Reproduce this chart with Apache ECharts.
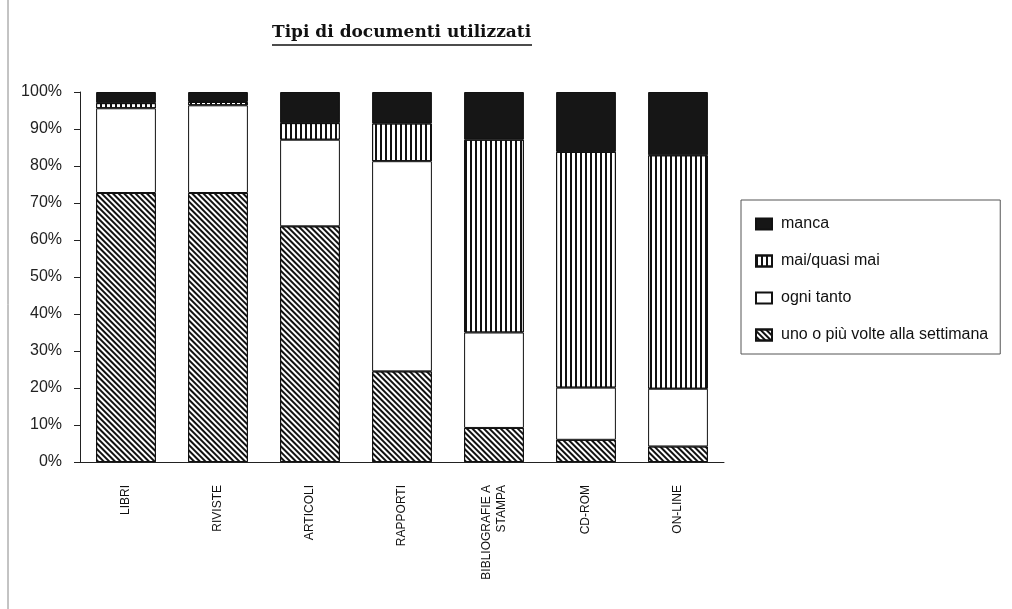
<!DOCTYPE html>
<html>
<head>
    <meta charset="UTF-8">
    <title>Tipi di documenti utilizzati</title>
    <script src="https://cdn.jsdelivr.net/npm/echarts@6/dist/echarts.min.js"></script>
    <style>html, body {margin: 0; padding: 0; background: #fff;} #main {width: 1012px; height: 609px;}</style>
</head>
<body>

<div id="main"></div>

<script>
    // dati (percentuali, ogni colonna somma a 100)
    var categorie = ['LIBRI', 'RIVISTE', 'ARTICOLI', 'RAPPORTI', 'BIBLIOGRAFIE A\nSTAMPA', 'CD-ROM', 'ON-LINE'];
    var settimana = [72.7, 72.7, 63.7, 24.5, 9.2, 6.0, 4.2];
    var ogniTanto = [22.9, 23.7, 23.4, 56.8, 25.8, 14.1, 15.6];
    var maiQuasi  = [1.4, 0.9, 4.5, 10.2, 52.1, 63.7, 63.1];
    var manca     = [3.0, 2.7, 8.4, 8.5, 12.9, 16.2, 17.1];
    var yTicks = ['0%', '10%', '20%', '30%', '40%', '50%', '60%', '70%', '80%', '90%', '100%'];

    var myChart = echarts.init(document.getElementById('main'));
    var font = 'Liberation Sans, Arial, sans-serif';

    option = {
        backgroundColor: '#fff',
        animation: false,
        title: {
            text: 'Tipi di documenti utilizzati',
            left: 272,
            top: 24,
            padding: 0,
            textStyle: {
                fontFamily: 'DejaVu Serif, serif',
                fontWeight: 'bold',
                fontSize: 17,
                color: '#111'
            }
        },
        graphic: [
            // sottolineatura del titolo
            {type: 'line', shape: {x1: 272, y1: 45, x2: 532, y2: 45}, style: {stroke: '#111', lineWidth: 1.5}},
            {type: 'line', shape: {x1: 8, y1: 0, x2: 8, y2: 609}, style: {stroke: '#888', lineWidth: 1}}
        ],
        legend: {
            orient: 'vertical',
            left: 741,
            top: 200,
            data: ['manca', 'mai/quasi mai', 'ogni tanto', 'uno o più volte alla settimana'],
            itemWidth: 16,
            itemHeight: 11,
            itemGap: 21,
            padding: [16, 12, 11, 14],
            borderColor: '#555',
            borderWidth: 1,
            backgroundColor: '#fff',
            icon: 'rect',
            textStyle: {fontFamily: font, fontSize: 16, color: '#111', padding: [0, 0, 0, 4]}
        },
        grid: {left: 80, right: 288, top: 92, bottom: 147},
        xAxis: {
            type: 'category',
            data: categorie,
            axisLine: {lineStyle: {color: '#222'}},
            axisTick: {length: 6, lineStyle: {color: '#222'}},
            axisLabel: {
                rotate: 90,
                margin: 23,
                interval: 0,
                fontFamily: font,
                fontSize: 12,
                lineHeight: 15,
                color: '#111'
            }
        },
        yAxis: {
            type: 'value',
            min: 0,
            max: 100,
            interval: 10,
            splitLine: {show: false},
            axisLine: {show: true, lineStyle: {color: '#222'}},
            axisTick: {show: true, length: 6, lineStyle: {color: '#222'}},
            axisLabel: {
                margin: 18,
                fontFamily: font,
                fontSize: 16,
                color: '#222',
                formatter: function (v) { return yTicks[Math.round(v / 10)]; }
            }
        },
        series: [
            {
                name: 'uno o più volte alla settimana',
                type: 'bar',
                stack: 'tot',
                barCategoryGap: '35%',
                data: settimana,
                itemStyle: {
                    color: '#fff', borderColor: '#111', borderWidth: 1,
                    decal: {symbol: 'rect', symbolSize: 1, color: '#111', dashArrayX: [1, 0], dashArrayY: [1.6, 1.6], rotation: Math.PI / 4}
                }
            },
            {
                name: 'ogni tanto',
                type: 'bar',
                stack: 'tot',
                data: ogniTanto,
                itemStyle: {color: '#fff', borderColor: '#111', borderWidth: 1}
            },
            {
                name: 'mai/quasi mai',
                type: 'bar',
                stack: 'tot',
                data: maiQuasi,
                itemStyle: {
                    color: '#fff', borderColor: '#111', borderWidth: 1,
                    decal: {symbol: 'rect', symbolSize: 1, color: '#111', dashArrayX: [2, 2.5], dashArrayY: [1, 0], rotation: 0}
                }
            },
            {
                name: 'manca',
                type: 'bar',
                stack: 'tot',
                data: manca,
                itemStyle: {color: '#161616', borderColor: '#111', borderWidth: 1}
            }
        ]
    };
    myChart.setOption(option);
</script>

</body>
</html>
